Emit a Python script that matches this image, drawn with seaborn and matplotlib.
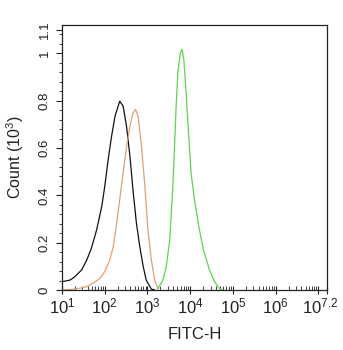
import numpy as np
import pandas as pd
import matplotlib
matplotlib.use("Agg")
import matplotlib.pyplot as plt
import matplotlib.transforms as mtransforms
from matplotlib.ticker import FixedLocator, FixedFormatter
import seaborn as sns

# FITC-H histogram traces: log10 of intensity and event count (x 10^3)
black_log = [1.00, 1.19, 1.30, 1.46, 1.58, 1.69, 1.81, 1.93, 2.00, 2.08, 2.16, 2.24,
             2.35, 2.43, 2.51, 2.59, 2.66, 2.74, 2.82, 2.90, 2.97, 3.09, 3.17]
black_cnt = [0.035, 0.042, 0.056, 0.085, 0.127, 0.178, 0.254, 0.353, 0.437, 0.551, 0.650, 0.734,
             0.798, 0.777, 0.692, 0.565, 0.424, 0.284, 0.183, 0.099, 0.042, 0.004, 0.0]

orange_log = [1.00, 1.25, 1.42, 1.58, 1.73, 1.89, 2.00, 2.12, 2.20, 2.28, 2.35, 2.43, 2.51,
              2.59, 2.66, 2.72, 2.78, 2.86, 2.94, 3.01, 3.09, 3.17, 3.25]
orange_cnt = [0.0, 0.003, 0.008, 0.014, 0.029, 0.049, 0.078, 0.127, 0.184, 0.283, 0.381, 0.494, 0.606,
              0.692, 0.748, 0.763, 0.735, 0.606, 0.439, 0.254, 0.127, 0.042, 0.003]

green_log = [3.25, 3.36, 3.44, 3.52, 3.59, 3.63, 3.67, 3.71, 3.77, 3.81, 3.85, 3.91,
             3.97, 4.02, 4.10, 4.20, 4.31, 4.45, 4.57, 4.68, 4.75]
green_cnt = [0.007, 0.042, 0.099, 0.211, 0.424, 0.592, 0.776, 0.919, 1.003, 1.017, 0.974, 0.817,
             0.635, 0.494, 0.381, 0.269, 0.169, 0.085, 0.035, 0.007, 0.0]

series_names = ["isotype", "unstained", "stained"]
series_colors = ["#111111", "#e3a06c", "#5cd64a"]

x_tick_exp = [1, 2, 3, 4, 5, 6, 7, 7.2]
x_tick_labels = [r"$\mathregular{10^{1}}$", r"$\mathregular{10^{2}}$", r"$\mathregular{10^{3}}$",
                 r"$\mathregular{10^{4}}$", r"$\mathregular{10^{5}}$", r"$\mathregular{10^{6}}$",
                 "", r"$\mathregular{10^{7.2}}$"]
y_ticks = [0, 0.2, 0.4, 0.6, 0.8, 1.0, 1.1]
y_tick_labels = ["0", "0.2", "0.4", "0.6", "0.8", "1", "1.1"]

sns.set_style("white")
plt.rcParams["font.family"] = ["Liberation Sans", "DejaVu Sans"]
plt.rcParams["mathtext.fontset"] = "custom"
plt.rcParams["mathtext.rm"] = "Liberation Sans"
plt.rcParams["mathtext.it"] = "Liberation Sans:italic"
plt.rcParams["mathtext.bf"] = "Liberation Sans:bold"

frames = []
for name, lg, ct in zip(series_names, [black_log, orange_log, green_log],
                        [black_cnt, orange_cnt, green_cnt]):
    frames.append(pd.DataFrame({"fitc": np.power(10.0, lg), "count": ct, "sample": name}))
df = pd.concat(frames, ignore_index=True)

fig = plt.figure(figsize=(3.43, 3.50), dpi=100)
ax = fig.add_axes([62 / 343, 1 - 290 / 350, (327 - 62) / 343, (290 - 25) / 350])

sns.lineplot(data=df, x="fitc", y="count", hue="sample", palette=dict(zip(series_names, series_colors)),
             estimator=None, sort=False, linewidth=0.9, legend=False, ax=ax)

ax.set_xscale("log")
ax.set_xlim(10 ** 1, 10 ** 7.2)
ax.set_ylim(0, 1.12)

ax.xaxis.set_major_locator(FixedLocator([10 ** e for e in x_tick_exp]))
ax.xaxis.set_major_formatter(FixedFormatter(x_tick_labels))
minor_x = [m * 10 ** d for d in range(1, 8) for m in range(2, 10)]
minor_x = [v for v in minor_x if 10 < v < 10 ** 7.2]
ax.xaxis.set_minor_locator(FixedLocator(minor_x))
ax.xaxis.set_minor_formatter(FixedFormatter([""] * len(minor_x)))

ax.yaxis.set_major_locator(FixedLocator(y_ticks))
ax.yaxis.set_major_formatter(FixedFormatter(y_tick_labels))
minor_y = [round(0.04 * i, 2) for i in range(1, 28)]
minor_y = [v for v in minor_y if abs(v * 5 - round(v * 5)) > 1e-6]
ax.yaxis.set_minor_locator(FixedLocator(minor_y))

ax.tick_params(axis="x", which="both", bottom=True, top=False)
ax.tick_params(axis="y", which="both", left=True, right=False)
ax.tick_params(axis="x", which="major", direction="inout", length=6, width=0.8, labelsize=12,
               pad=2, colors="#222222")
ax.tick_params(axis="x", which="minor", direction="in", length=3, width=0.6, colors="#222222")
ax.tick_params(axis="y", which="major", direction="out", length=4, width=0.8, labelsize=9.5,
               pad=4, colors="#222222")
ax.tick_params(axis="y", which="minor", direction="out", length=2, width=0.6, colors="#222222")
for lbl in ax.get_yticklabels():
    lbl.set_rotation(90)
    lbl.set_va("center")

# keep the end label inside the figure
end_lbl = ax.get_xticklabels()[-1]
end_lbl.set_transform(end_lbl.get_transform() + mtransforms.ScaledTranslation(-7 / 100, 0, fig.dpi_scale_trans))

for sp in ax.spines.values():
    sp.set_visible(True)
    sp.set_color("#222222")
    sp.set_linewidth(0.9)

ax.set_xlabel("FITC-H", fontsize=12, color="#222222", labelpad=7)
ax.set_ylabel(r"Count ($\mathregular{10^3}$)", fontsize=11.5, color="#222222", labelpad=9)

fig.savefig("out.png", dpi=100, facecolor="white")
